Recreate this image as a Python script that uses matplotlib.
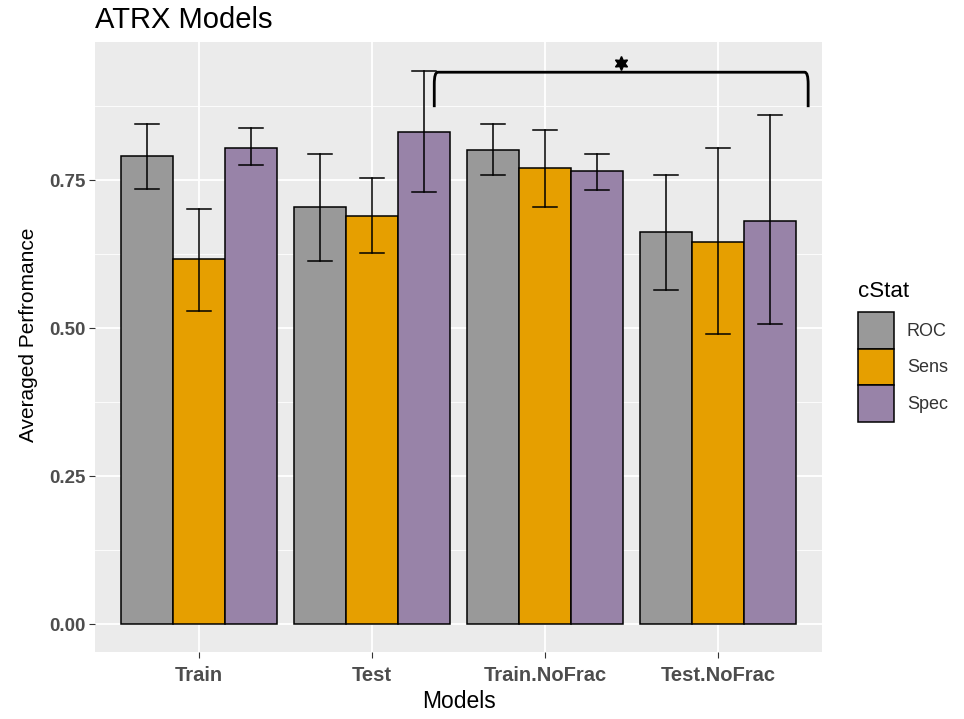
import matplotlib
matplotlib.use("Agg")
import matplotlib.pyplot as plt
import numpy as np
from matplotlib.path import Path
from matplotlib.patches import PathPatch, Patch

plt.rcParams["font.family"] = ["Liberation Sans", "DejaVu Sans"]

models = ["Train", "Test", "Train.NoFrac", "Test.NoFrac"]
stats = ["ROC", "Sens", "Spec"]
colors = ["#999999", "#E69F00", "#9883A8"]

means = {
    "ROC":  [0.790, 0.704, 0.801, 0.662],
    "Sens": [0.617, 0.689, 0.770, 0.645],
    "Spec": [0.804, 0.831, 0.765, 0.681],
}
upper = {
    "ROC":  [0.845, 0.794, 0.845, 0.758],
    "Sens": [0.701, 0.753, 0.834, 0.804],
    "Spec": [0.838, 0.934, 0.794, 0.860],
}
lower = {
    "ROC":  [0.735, 0.613, 0.758, 0.564],
    "Sens": [0.529, 0.627, 0.704, 0.490],
    "Spec": [0.775, 0.730, 0.733, 0.507],
}
yticks = [0.00, 0.25, 0.50, 0.75]
ytick_labels = ["0.00", "0.25", "0.50", "0.75"]
bracket_y = 0.932
bracket_drop = 0.873

fig = plt.figure(figsize=(9.64, 7.19), dpi=100)
ax = fig.add_axes([95/964, 1 - 652/719, (822-95)/964, (652-42)/719])
ax.set_facecolor("#EBEBEB")

x = np.arange(1, len(models) + 1)
bw = 0.3
for i, s in enumerate(stats):
    xs = x + (i - 1) * bw
    ax.bar(xs, means[s], width=bw, color=colors[i], edgecolor="black", linewidth=1.1, zorder=3)
    for xx, lo, hi in zip(xs, lower[s], upper[s]):
        ax.plot([xx, xx], [lo, hi], color="black", lw=1.1, zorder=4)
        ax.plot([xx - 0.07, xx + 0.07], [lo, lo], color="black", lw=1.1, zorder=4)
        ax.plot([xx - 0.07, xx + 0.07], [hi, hi], color="black", lw=1.1, zorder=4)

# significance bracket
xl, xr = 2.36, 4.52
r = 0.02
verts = [(xl, bracket_drop), (xl, bracket_y - 0.02), (xl, bracket_y), (xl + r, bracket_y),
         (xr - r, bracket_y), (xr, bracket_y), (xr, bracket_y - 0.02), (xr, bracket_drop)]
codes = [Path.MOVETO, Path.LINETO, Path.CURVE3, Path.CURVE3,
         Path.LINETO, Path.CURVE3, Path.CURVE3, Path.LINETO]
ax.add_patch(PathPatch(Path(verts, codes), fill=False, lw=2.0, color="black", zorder=5))
ax.plot([(xl + xr) / 2], [bracket_y + 0.016], marker=(6, 1, 0), markersize=10,
        color="black", zorder=5, linestyle="none")

ax.set_xlim(0.4, 4.6)
ax.set_ylim(-0.0468, 0.983)
ax.set_yticks(yticks)
ax.set_yticklabels(ytick_labels)
ax.set_yticks([0.125, 0.375, 0.625, 0.875], minor=True)
ax.set_xticks(x)
ax.set_xticklabels(models)
ax.grid(which="major", color="white", lw=1.3, zorder=0)
ax.grid(which="minor", axis="y", color="white", lw=0.6, zorder=0)
ax.set_axisbelow(True)
for sp in ax.spines.values():
    sp.set_visible(False)
ax.tick_params(axis="both", which="major", length=4, color="#333333",
               labelcolor="#4D4D4D", width=0.8)
ax.tick_params(axis="x", labelsize=14.5, pad=6)
ax.tick_params(axis="y", labelsize=13.5, pad=3)
ax.tick_params(axis="y", which="minor", length=0)
for lab in ax.get_xticklabels() + ax.get_yticklabels():
    lab.set_fontweight("bold")

ax.set_xlabel("Models", fontsize=16.5, color="black", labelpad=4)
ax.set_ylabel("Averaged Perfromance", fontsize=15, color="black", labelpad=6)
ax.yaxis.set_label_coords(-0.079, 0.52)
fig.text(95/964, 1 - 20/719, "ATRX Models", fontsize=21, ha="left", va="center")

handles = [Patch(facecolor=c, edgecolor="black", linewidth=1.1) for c in colors]
leg = fig.legend(handles, stats, title="cStat", loc="upper left",
                 bbox_to_anchor=(851/964, 1 - 274/719), frameon=False,
                 fontsize=13, title_fontsize=16, handlelength=2.0, handleheight=2.75,
                 handletextpad=0.7, labelspacing=0.0, borderaxespad=0)
leg._legend_box.align = "left"
leg._legend_box.sep = 7
for t in leg.get_texts():
    t.set_color("#333333")

fig.savefig("out.png", dpi=100)
